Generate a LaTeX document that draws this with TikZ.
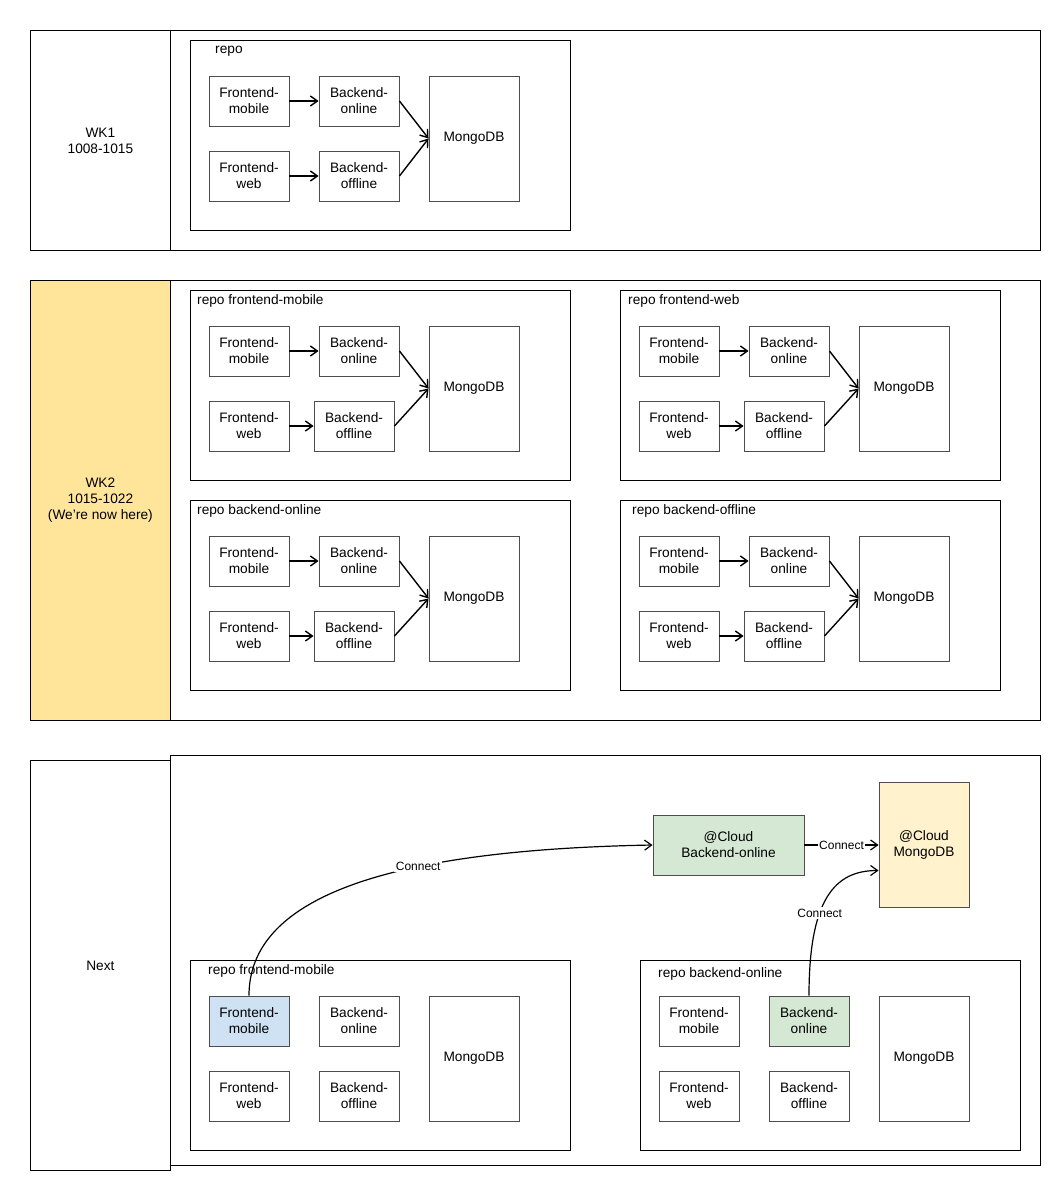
\documentclass[tikz,border=0pt]{standalone}
\usepackage{fontspec}
\setmainfont{Liberation Sans}
\usetikzlibrary{arrows.meta,calc}
\definecolor{wkyellow}{HTML}{FFE599}
\definecolor{cloudgreen}{HTML}{D5E8D4}
\definecolor{cloudyellow}{HTML}{FFF2CC}
\definecolor{feblue}{HTML}{CFE2F3}
\definecolor{boxgray}{HTML}{4D4D4D}

\tikzset{
  frame/.style={draw=black, line width=0.8pt, inner sep=0pt, anchor=north west, fill=white},
  comp/.style={draw=boxgray, line width=0.9pt, minimum width=80pt, minimum height=50pt,
    inner sep=0pt, align=center, font=\fontsize{13.7}{16}\selectfont, fill=white},
  db/.style={comp, minimum width=90pt, minimum height=125pt},
  flow/.style={-{Straight Barb[length=7pt,width=10pt]}, line width=1.4pt},
  conn/.style={-{Straight Barb[length=7pt,width=10pt]}, line width=1.2pt},
  elabel/.style={fill=white, inner sep=1.5pt, font=\fontsize{12}{14}\selectfont},
  secttext/.style={align=center, font=\fontsize{13.7}{16}\selectfont},
  repolabel/.style={anchor=west, inner sep=0pt, font=\fontsize{13.7}{16}\selectfont},
}

% #1 prefix, #2 x, #3 y, #4 label, #5 label x offset, #6 label y offset,
% #7 offline shift, #8 frontend-mobile fill, #9 backend-online fill
\newcommand\repoblock[9]{%
  \begin{scope}[name prefix=#1-]
    \node[frame, minimum width=380pt, minimum height=190pt] (box) at (#2,#3) {};
    \node[repolabel] (lbl) at (#2+#5,#3+#6) {#4};
    \node[comp, fill=#8] (fm) at (#2+59,#3+61) {Frontend-\\mobile};
    \node[comp, fill=#9] (bo) at (#2+169,#3+61) {Backend-\\online};
    \node[comp] (fw) at (#2+59,#3+136) {Frontend-\\web};
    \node[comp] (boff) at (#2+169+#7,#3+136) {Backend-\\offline};
    \node[db] (mg) at (#2+284,#3+98.5) {MongoDB};
  \end{scope}}

\newcommand\repoarrows[1]{%
  \draw[flow] (#1-fm) -- (#1-bo);
  \draw[flow] (#1-fw) -- (#1-boff);
  \draw[flow] (#1-bo.east) -- (#1-mg.west);
  \draw[flow] (#1-boff.east) -- (#1-mg.west);}

\begin{document}
\begin{tikzpicture}[x=1pt,y=-1pt]
  \useasboundingbox[fill=white] (0,0) rectangle (1060,1190);

  % WK1
  \node[frame, secttext, minimum width=140pt, minimum height=220pt] (wk1l) at (30,30) {WK1\\1008-1015};
  \node[frame, minimum width=870pt, minimum height=220pt] (wk1r) at (170,30) {};
  \repoblock{r1}{190}{40}{repo}{25}{11}{0}{white}{white}
  \repoarrows{r1}

  % WK2
  \node[frame, secttext, fill=wkyellow, minimum width=140pt, minimum height=440pt] (wk2l) at (30,280) {WK2\\1015-1022\\(We're now here)};
  \node[frame, minimum width=870pt, minimum height=440pt] (wk2r) at (170,280) {};
  \repoblock{r2a}{190}{290}{repo frontend-mobile}{7}{11}{-5}{white}{white}
  \repoarrows{r2a}
  \repoblock{r2b}{620}{290}{repo frontend-web}{8}{11}{-5}{white}{white}
  \repoarrows{r2b}
  \repoblock{r2c}{190}{500}{repo backend-online}{7}{11}{-5}{white}{white}
  \repoarrows{r2c}
  \repoblock{r2d}{620}{500}{repo backend-offline}{12}{11}{-5}{white}{white}
  \repoarrows{r2d}

  % Next
  \node[frame, minimum width=870pt, minimum height=410pt] (nextr) at (170,755) {};
  \node[frame, secttext, minimum width=140pt, minimum height=410pt] (nextl) at (30,760) {Next};
  \repoblock{r3a}{190}{960}{repo frontend-mobile}{18}{11}{0}{feblue}{white}
  \repoblock{r3b}{640}{960}{repo backend-online}{18}{14}{0}{white}{cloudgreen}

  \node[comp, fill=cloudgreen, minimum width=151pt, minimum height=60pt] (cbo) at (728.5,845) {@Cloud\\Backend-online};
  \node[db, fill=cloudyellow] (cmg) at (924,844.5) {@Cloud\\MongoDB};

  \draw[conn] (cbo.east) -- node[elabel]{Connect} (cbo.east -| cmg.west);
  \draw[conn] (r3a-fm.north) .. controls ($(r3a-fm.north)+(0,-96)$) and ($(cbo.west)+(-272,5)$) ..
    node[elabel, pos=0.65]{Connect} (cbo.west);
  \coordinate (cmgin) at ([yshift=-26pt]cmg.west);
  \draw[conn] (r3b-bo.north) .. controls ($(r3b-bo.north)+(0,-96)$) and ($(cmgin)+(-44,0)$) ..
    node[elabel, pos=0.38]{Connect} (cmgin);
\end{tikzpicture}
\end{document}
